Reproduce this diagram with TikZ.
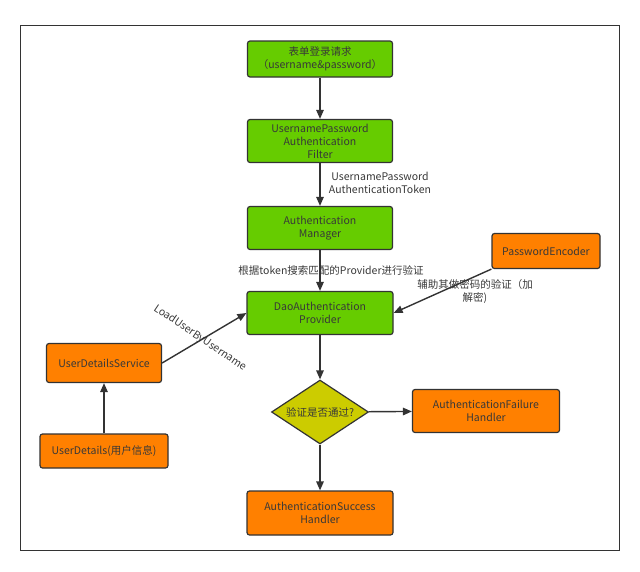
\documentclass[tikz,border=0pt]{standalone}
\usepackage{fontspec}
\setmainfont{Noto Sans CJK SC}
\usetikzlibrary{arrows.meta,shapes.geometric}
\definecolor{boxgreen}{HTML}{66CC00}
\definecolor{boxorange}{HTML}{FF8000}
\definecolor{decision}{HTML}{CCCC00}
\definecolor{edgegray}{HTML}{333333}
\definecolor{txtgray}{HTML}{383838}
\begin{document}
\begin{tikzpicture}[x=1pt, y=-1pt,
        font=\fontsize{10.5}{13}\selectfont,
        flowbox/.style={draw=edgegray, line width=1.2pt, rounded corners=2.5pt, align=center,
            text=txtgray, minimum width=145pt, minimum height=43pt, inner sep=2pt},
        greenbox/.style={flowbox, fill=boxgreen},
        orangebox/.style={flowbox, fill=boxorange},
        flow/.style={draw=edgegray, line width=1.4pt, -{Triangle[length=9pt,width=7.5pt]}},
        note/.style={text=txtgray, align=center, inner sep=1pt}]
        \useasboundingbox (0,0) rectangle (640,571);

        % Frame
        \draw[edgegray, line width=1pt] (20,25) rectangle (619,550);

        % Main chain (green)
        \node[greenbox, minimum height=36pt] (request) at (320,59) {表单登录请求\\（username\&password）};
        \node[greenbox] (filter) at (320,141) {UsernamePassword\\Authentication\\Filter};
        \node[greenbox] (manager) at (320,228) {Authentication\\Manager};
        \node[greenbox, minimum width=146pt] (dao) at (320,313) {DaoAuthentication\\Provider};

        % Helpers (orange)
        \node[orangebox, minimum width=108pt, minimum height=35pt] (encoder) at (546,251) {PasswordEncoder};
        \node[orangebox, minimum width=115pt, minimum height=39pt] (service) at (104,363) {UserDetailsService};
        \node[orangebox, minimum width=128pt, minimum height=34pt] (details) at (104,451) {UserDetails(用户信息)};

        % Decision
        \node[draw=edgegray, line width=1.2pt, fill=decision, diamond, aspect=1.5, inner sep=0pt,
            minimum width=97pt, minimum height=64pt, text=txtgray] (check) at (320,412) {验证是否通过?};

        % Results
        \node[orangebox, minimum width=147pt] (failure) at (486,411) {AuthenticationFailure\\Handler};
        \node[orangebox, minimum width=146pt, minimum height=44pt] (success) at (320,513) {AuthenticationSuccess\\Handler};

        % Labels
        \node[note] (tokenlbl) at (380,183) {UsernamePassword\\AuthenticationToken};
        \node[note] (providerlbl) at (331,270) {根据token搜索匹配的Provider进行验证};
        \node[note] (cryptolbl) at (475,292) {辅助其做密码的验证（加\\解密)};
        \node[note, rotate=-34] (loadlbl) at (200,338) {LoadUserByUsername};

        % Arrows
        \draw[flow] (request) -- (filter);
        \draw[flow] (filter) -- (manager);
        \draw[flow] (manager) -- (dao);
        \draw[flow] (encoder.south west) -- (dao.east);
        \draw[flow] (service.east) -- (dao.west);
        \draw[flow] (details) -- (service);
        \draw[flow] (dao) -- (check);
        \draw[flow] (check) -- (failure);
        \draw[flow] (check) -- (success);

    \end{tikzpicture}
\end{document}
